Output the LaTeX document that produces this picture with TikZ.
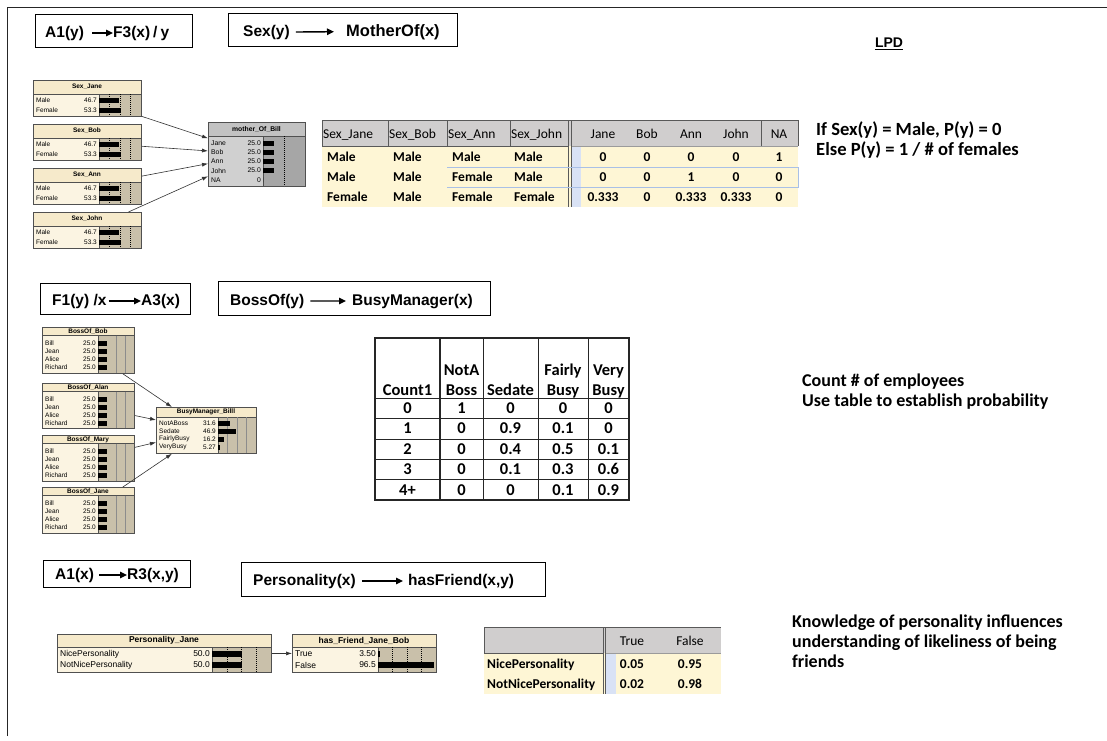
\documentclass[tikz,border=0pt]{standalone}
\usepackage{fontspec}
\setmainfont{Liberation Sans}
\newfontfamily\calfont{Carlito}
\newfontfamily\arfont{Liberation Sans}
\usetikzlibrary{arrows.meta}

\definecolor{nettitle}{HTML}{F6EACB}
\definecolor{netbody}{HTML}{FBF4E2}
\definecolor{netbar}{HTML}{C9C0AA}
\definecolor{grtitle}{HTML}{C2C2C2}
\definecolor{grbody}{HTML}{D0D0D0}
\definecolor{grbar}{HTML}{A6A6A6}
\definecolor{hdrgray}{HTML}{D0CECE}
\definecolor{cellcream}{HTML}{FEF6D5}
\definecolor{selblue}{HTML}{D9E2F5}
\definecolor{selline}{HTML}{A9C0E6}
\definecolor{netedge}{HTML}{505050}
\definecolor{tabline}{HTML}{595959}

% parameters of the belief-bar boxes
\def\bnth{14}\def\bnrh{10}\def\bnpad{1}\def\bnbarh{5}\def\bnfs{6.5}
\def\bnquarts{0.25,0.5,0.75}

\tikzset{
  bnline/.style={draw=netedge, line width=0.6pt},
  bndash/.style={black, line width=0.4pt, dash pattern=on 1pt off 1pt},
  bnframe/.style={draw=netedge, line width=0.8pt, inner sep=0pt, fill=none},
  bntitle/.style={inner sep=0pt, font=\arfont\bfseries\fontsize{\bnfs}{\bnfs}\selectfont},
  bnlabel/.style={inner sep=0pt, font=\arfont\fontsize{\bnfs}{\bnfs}\selectfont},
  bnarrow/.style={draw=black!80, line width=0.6pt, -{Latex[length=6pt,width=4pt]}},
  hbox/.style={draw, line width=1pt, inner sep=0pt, anchor=north west},
  htext/.style={inner sep=0pt, anchor=base west, font=\arfont\bfseries\fontsize{15.5}{18}\selectfont},
  harrow/.style={line width=1.4pt, -{Triangle[length=7pt,width=6.5pt]}},
  thead/.style={inner sep=0pt, font=\calfont\fontsize{13.5}{16}\selectfont},
  tdata/.style={inner sep=0pt, font=\calfont\bfseries\fontsize{13.5}{16}\selectfont},
  mtab/.style={inner sep=0pt, anchor=base, font=\calfont\bfseries\fontsize{16.5}{20}\selectfont},
  note/.style={inner sep=0pt, anchor=base west, font=\calfont\bfseries\fontsize{18}{20}\selectfont},
}

% belief-bar box: #1 name, #2 left, #3 top, #4 width, #5 height,
% #6 left of bar area, #7 title, #8 rows label/value, #9 colour prefix
\newcommand{\bnnode}[9]{%
  \fill[#9body] (#2,#3) rectangle ++(#4,#5);
  \fill[#9bar] (#6,#3+\bnth) rectangle (#2+#4,#3+#5);
  \fill[#9title] (#2,#3) rectangle ++(#4,\bnth);
  \draw[bnline] (#2,#3+\bnth) -- ++(#4,0);
  \draw[bnline] (#6,#3+\bnth) -- (#6,#3+#5);
  \pgfmathsetmacro\bnbw{#2+#4-#6}
  \foreach \q in \bnquarts
    \draw[bndash] ({#6+\q*\bnbw},#3+\bnth) -- ++(0,#5-\bnth);
  \node[bntitle] (#1-t) at ({#2+#4/2},{#3+\bnth/2}) {#7};
  \foreach [count=\i] \lab/\val in {#8} {
    \pgfmathsetmacro\bny{#3+\bnth+\bnpad+(\i-0.5)*\bnrh}
    \node[bnlabel, anchor=west] (#1-l\i) at (#2+3,\bny) {\lab};
    \node[bnlabel, anchor=east] (#1-v\i) at (#6-2,\bny) {\val};
    \fill[black] (#6,\bny-\bnbarh/2) rectangle ({#6+\val*\bnbw/100},\bny+\bnbarh/2);
  }
  \node[bnframe, minimum width=#4pt, minimum height=#5pt, anchor=north west] (#1) at (#2,#3) {};
}

\begin{document}
\begin{tikzpicture}[x=1pt, y=-1pt]
\useasboundingbox (0,0) rectangle (1107,740);
\fill[white] (0,0) rectangle (1107,740);

% page frame
\draw[line width=1pt, black!85] (7,736) -- (7,7) -- (1107,7);

% ---------------- section 1: mother of ----------------
\node[hbox, minimum width=157pt, minimum height=33pt] (h1) at (35,14) {};
\node[htext] (h1a) at (45,37) {A1(y)};
\node[htext] (h1b) at (113,37) {F3(x)\hspace{3pt}/\hspace{3pt}y};
\draw[harrow] ([xshift=8pt]h1a.east) -- (h1b.west);

\node[hbox, minimum width=229pt, minimum height=33pt] (h2) at (228,13) {};
\node[htext] (h2a) at (243,36) {Sex(y)};
\node[htext, font=\arfont\bfseries\fontsize{16.5}{18}\selectfont] (h2b) at (346,36) {MotherOf(x)};
\draw[harrow] ([xshift=6pt]h2a.east) -- ([xshift=-12pt]h2b.west);

\node[inner sep=0pt, anchor=base, font=\arfont\bfseries\fontsize{14}{16}\selectfont] (lpd) at (889,47) {LPD};
\draw[line width=1pt] ([yshift=-1.8pt]lpd.south west) -- ([yshift=-1.8pt]lpd.south east);

\def\bnth{14}\def\bnrh{10}\def\bnpad{1}\def\bnbarh{5}\def\bnfs{6.5}
\def\bnquarts{0.25,0.5,0.75}
\bnnode{sjane}{33}{80}{108}{36}{99}{Sex\_Jane}{Male/46.7,Female/53.3}{net}
\bnnode{sbob}{33}{124}{108}{36}{99}{Sex\_Bob}{Male/46.7,Female/53.3}{net}
\bnnode{sann}{33}{168}{108}{36}{99}{Sex\_Ann}{Male/46.7,Female/53.3}{net}
\bnnode{sjohn}{33}{212}{108}{36}{99}{Sex\_John}{Male/46.7,Female/53.3}{net}

\def\bnrh{9.2}\def\bnpad{2.4}\def\bnfs{6.8}
\def\bnquarts{0.5}
\bnnode{mob}{208}{122}{97}{64}{263}{mother\_Of\_Bill}{Jane/25.0,Bob/25.0,Ann/25.0,John/25.0,NA/0}{gr}

\foreach \s in {sjane,sbob,sann,sjohn}
  \draw[bnarrow] (\s) -- (mob);

% conditional table
\fill[hdrgray] (322,120) rectangle (798,146);
\fill[cellcream] (322,146) rectangle (798,207);
\fill[selblue] (571,146) rectangle (581,207);
\draw[tabline, line width=0.9pt] (322,120) -- (798,120);
\draw[tabline, line width=0.9pt] (322,146) -- (568,146);
\draw[tabline!60, line width=0.7pt] (571,146) -- (798,146);
\foreach \x in {322,388,447,510,761,798}
  \draw[tabline, line width=0.9pt] (\x,120) -- (\x,146);
\draw[tabline, line width=0.9pt] (568,120) -- (568,207);
\draw[tabline, line width=0.9pt] (571,120) -- (571,207);
\draw[selline, line width=1pt] (447,167) -- (798,167) -- (798,187) -- (447,187);

\foreach [count=\i] \t/\x in {Sex\_Jane/323,Sex\_Bob/389,Sex\_Ann/448,Sex\_John/511}
  \node[thead, anchor=base west] (ct-h\i) at (\x,138) {\t};
\foreach [count=\i] \t/\x in {Jane/603,Bob/647,Ann/691,John/736,NA/779}
  \node[thead, anchor=base] (ct-k\i) at (\x,138) {\t};
\foreach [count=\r] \a/\b/\c/\d/\e/\f/\g/\h/\k in
   {Male/Male/Male/Male/0/0/0/0/1,
    Male/Male/Female/Male/0/0/1/0/0,
    Female/Male/Female/Female/0.333/0/0.333/0.333/0} {
  \pgfmathsetmacro\yy{141.5+20*\r}
  \node[tdata, anchor=base west] (ct\r-a) at (327,\yy) {\a};
  \node[tdata, anchor=base west] (ct\r-b) at (393,\yy) {\b};
  \node[tdata, anchor=base west] (ct\r-c) at (452,\yy) {\c};
  \node[tdata, anchor=base west] (ct\r-d) at (514,\yy) {\d};
  \node[tdata, anchor=base] (ct\r-e) at (603,\yy) {\e};
  \node[tdata, anchor=base] (ct\r-f) at (647,\yy) {\f};
  \node[tdata, anchor=base] (ct\r-g) at (691,\yy) {\g};
  \node[tdata, anchor=base] (ct\r-h) at (736,\yy) {\h};
  \node[tdata, anchor=base] (ct\r-k) at (779,\yy) {\k};
}

\node[note, font=\calfont\bfseries\fontsize{18.6}{20}\selectfont] (n1a) at (816,135) {If Sex(y) = Male, P(y) = 0};
\node[note, font=\calfont\bfseries\fontsize{18.6}{20}\selectfont] (n1b) at (816,155) {Else P(y) = 1 / \# of females};

% ---------------- section 2: busy manager ----------------
\node[hbox, minimum width=150pt, minimum height=31pt] (h3) at (40,283) {};
\node[htext] (h3a) at (52,305) {F1(y) /x};
\node[htext] (h3b) at (141,305) {A3(x)};
\draw[harrow] ([xshift=2pt]h3a.east) -- (h3b.west);

\node[hbox, minimum width=272pt, minimum height=34pt] (h4) at (218,281) {};
\node[htext] (h4a) at (230,305) {BossOf(y)};
\node[htext] (h4b) at (352,305) {BusyManager(x)};
\draw[harrow] ([xshift=6pt]h4a.east) -- ([xshift=-6pt]h4b.west);

\def\bnth{8.7}\def\bnrh{8}\def\bnpad{3.6}\def\bnbarh{5}\def\bnfs{6.5}
\def\bnquarts{0.5,0.75}
\tikzset{bndash/.style={black!45, line width=0.5pt}}
\bnnode{bbob}{42}{327}{92}{46}{98}{BossOf\_Bob}{Bill/25.0,Jean/25.0,Alice/25.0,Richard/25.0}{net}
\bnnode{balan}{42}{383}{92}{45}{98}{BossOf\_Alan}{Bill/25.0,Jean/25.0,Alice/25.0,Richard/25.0}{net}
\bnnode{bmary}{42}{435}{92}{46}{98}{BossOf\_Mary}{Bill/25.0,Jean/25.0,Alice/25.0,Richard/25.0}{net}
\bnnode{bjane}{42}{487}{92}{46}{98}{BossOf\_Jane}{Bill/25.0,Jean/25.0,Alice/25.0,Richard/25.0}{net}

\def\bnth{10}\def\bnpad{2}
\def\bnquarts{0.25,0.5,0.75}
\bnnode{bmb}{156}{407}{100}{46}{218}{BusyManager\_Billl}{NotABoss/31.6,Sedate/46.9,FairlyBusy/16.2,VeryBusy/5.27}{net}

\foreach \s in {bbob,balan,bmary,bjane}
  \draw[bnarrow] (\s) -- (bmb);

% count table
\foreach \y in {398,418,439,459,479}
  \draw[black!85, line width=1pt] (375,\y) -- (629,\y);
\foreach \x in {483,538,588}
  \draw[black!85, line width=1pt] (\x,338) -- (\x,500);
\draw[black!85, line width=2.2pt] (440,338) -- (440,500);
\draw[black!85, line width=1.6pt] (375,338) rectangle (629,500);

\node[mtab] (m-h1) at (407.5,395) {Count1};
\node[mtab] (m-h2a) at (461.5,375) {NotA};
\node[mtab] (m-h2b) at (461.5,395) {Boss};
\node[mtab] (m-h3) at (510.5,395) {Sedate};
\node[mtab] (m-h4a) at (563,375) {Fairly};
\node[mtab] (m-h4b) at (563,395) {Busy};
\node[mtab] (m-h5a) at (608.5,375) {Very};
\node[mtab] (m-h5b) at (608.5,395) {Busy};
\foreach [count=\r] \a/\b/\c/\d/\e in
   {0/1/0/0/0, 1/0/0.9/0.1/0, 2/0/0.4/0.5/0.1, 3/0/0.1/0.3/0.6, 4+/0/0/0.1/0.9} {
  \pgfmathsetmacro\yy{413.5+20.4*(\r-1)}
  \node[mtab] (m\r-a) at (407.5,\yy) {\a};
  \node[mtab] (m\r-b) at (461.5,\yy) {\b};
  \node[mtab] (m\r-c) at (510.5,\yy) {\c};
  \node[mtab] (m\r-d) at (563,\yy) {\d};
  \node[mtab] (m\r-e) at (608.5,\yy) {\e};
}

\node[note] (n2a) at (802,386) {Count \# of employees};
\node[note] (n2b) at (802,406) {Use table to establish probability};

% ---------------- section 3: has friend ----------------
\node[hbox, minimum width=147pt, minimum height=27pt] (h5) at (43,560) {};
\node[htext] (h5a) at (55,579) {A1(x)};
\node[htext] (h5b) at (127,579) {R3(x,y)};
\draw[harrow] ([xshift=5pt]h5a.east) -- (h5b.west);

\node[hbox, minimum width=304pt, minimum height=34pt] (h6) at (241,562) {};
\node[htext] (h6a) at (253,585) {Personality(x)};
\node[htext] (h6b) at (408,585) {hasFriend(x,y)};
\draw[harrow] ([xshift=6pt]h6a.east) -- ([xshift=-5pt]h6b.west);

\def\bnth{13}\def\bnrh{11}\def\bnpad{1.5}\def\bnbarh{6}\def\bnfs{8.5}
\def\bnquarts{0.25,0.5,0.75}
\tikzset{bndash/.style={black, line width=0.4pt, dash pattern=on 1pt off 1pt}}
\bnnode{pjane}{57}{634}{214}{38}{212}{Personality\_Jane}{NicePersonality/50.0,NotNicePersonality/50.0}{net}
\bnnode{hfjb}{292}{634}{144}{38}{378}{has\_Friend\_Jane\_Bob}{True/3.50,False/96.5}{net}
\draw[bnarrow] (pjane) -- (hfjb);

% friendship table
\fill[hdrgray] (484,627) rectangle (721,653);
\fill[cellcream] (484,653) rectangle (721,694);
\fill[selblue] (605,653) rectangle (616,694);
\draw[tabline, line width=0.9pt] (484,653) -- (484,627) -- (721,627);
\draw[tabline, line width=0.9pt] (484,653) -- (603,653);
\draw[tabline!60, line width=0.7pt] (605,653) -- (721,653);
\draw[tabline, line width=0.9pt] (603,627) -- (603,694);
\draw[tabline, line width=0.9pt] (605.5,627) -- (605.5,694);
\node[thead, anchor=base] (ft-h1) at (632,645) {True};
\node[thead, anchor=base] (ft-h2) at (690,645) {False};
\node[tdata, anchor=base west] (ft1-a) at (487,668) {NicePersonality};
\node[tdata, anchor=base] (ft1-b) at (632,668) {0.05};
\node[tdata, anchor=base] (ft1-c) at (690,668) {0.95};
\node[tdata, anchor=base west] (ft2-a) at (487,688) {NotNicePersonality};
\node[tdata, anchor=base] (ft2-b) at (632,688) {0.02};
\node[tdata, anchor=base] (ft2-c) at (690,688) {0.98};

\node[note] (n3a) at (792,627) {Knowledge of personality influences};
\node[note] (n3b) at (792,647) {understanding of likeliness of being};
\node[note] (n3c) at (792,667) {friends};
\end{tikzpicture}
\end{document}
